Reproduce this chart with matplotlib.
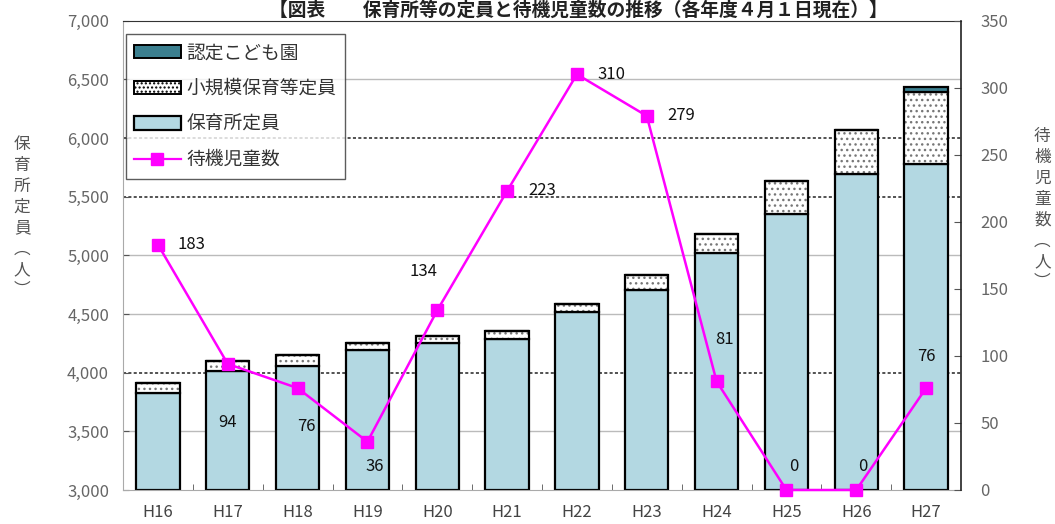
import matplotlib
matplotlib.use("Agg")
import matplotlib.pyplot as plt
from matplotlib.patches import Patch
from matplotlib.lines import Line2D
from matplotlib.ticker import FuncFormatter, MultipleLocator

plt.rcParams['font.family'] = ['Noto Sans CJK JP', 'DejaVu Sans']
plt.rcParams['hatch.linewidth'] = 1.0

# Data
years = ["H16", "H17", "H18", "H19", "H20", "H21", "H22", "H23", "H24", "H25", "H26", "H27"]
hoikusho = [3823, 4015, 4060, 4191, 4249, 4285, 4518, 4702, 5020, 5352, 5695, 5780]
shokibo = [85, 85, 89, 60, 62, 68, 71, 128, 165, 280, 375, 609]
kodomoen = [0, 0, 0, 0, 0, 0, 0, 0, 0, 0, 0, 49]
taiki = [183, 94, 76, 36, 134, 223, 310, 279, 81, 0, 0, 76]

BLUE = "#b3d8e2"
TEAL = "#3b7f8f"
MAGENTA = "#ff00ff"
TICK_GRAY = "#666666"

fig = plt.figure(figsize=(10.55, 5.24), dpi=100)
ax = fig.add_axes([0.1166, 0.0649, 0.7943, 0.8956])

x = list(range(len(years)))
w = 0.62
base = 3000

# stacked bars
ax.bar(x, [v - base for v in hoikusho], w, bottom=base, color=BLUE,
       edgecolor="black", linewidth=1.6, zorder=2)
bottom2 = hoikusho
ax.bar(x, shokibo, w, bottom=bottom2, color="white", edgecolor="#777777",
       hatch="...", linewidth=0, zorder=2)
ax.bar(x, shokibo, w, bottom=bottom2, fill=False, edgecolor="black",
       linewidth=1.6, zorder=3)
bottom3 = [a + b for a, b in zip(hoikusho, shokibo)]
ax.bar(x, kodomoen, w, bottom=bottom3, color=TEAL, edgecolor="black",
       linewidth=1.6, zorder=3)

ax.set_xlim(-0.5, len(years) - 0.5)
ax.set_ylim(3000, 7000)
ax.yaxis.set_major_locator(MultipleLocator(500))
ax.yaxis.set_major_formatter(FuncFormatter(lambda v, p: f"{int(v):,}"))
ax.set_xticks(x)
ax.set_xticklabels(years)
ax.set_xticks([i + 0.5 for i in x[:-1]], minor=True)
ax.tick_params(axis="x", which="major", length=0, pad=10, labelsize=12,
               labelcolor="#444444")
ax.tick_params(axis="x", which="minor", direction="in", length=4,
               color="#555555")
ax.tick_params(axis="y", direction="in", length=4, color="#555555",
               labelsize=12, labelcolor=TICK_GRAY, pad=10)

# horizontal grid lines
dark_levels = [4000, 5500, 6000]
for lvl in range(3500, 7000, 500):
    if lvl in dark_levels:
        ax.axhline(lvl, color="#222222", lw=1.1, ls=(0, (2, 1.5)), zorder=0)
    else:
        ax.axhline(lvl, color="#bbbbbb", lw=1.0, ls="-", zorder=0)

ax.spines["top"].set_color("#333333")
ax.spines["top"].set_linestyle((0, (2, 1)))
ax.spines["left"].set_color("#aaaaaa")
ax.spines["bottom"].set_color("#aaaaaa")
ax.spines["right"].set_visible(False)

# waiting children line on the secondary axis
ax2 = ax.twinx()
ax2.plot(x, taiki, color=MAGENTA, lw=1.8, marker="s", markersize=9,
         markerfacecolor=MAGENTA, markeredgecolor=MAGENTA, zorder=5,
         clip_on=False)
ax2.set_ylim(0, 350)
ax2.yaxis.set_major_locator(MultipleLocator(50))
ax2.tick_params(axis="y", direction="in", length=5, color="#555555",
                labelsize=12, labelcolor=TICK_GRAY, pad=14)
ax2.spines["right"].set_color("#222222")
ax2.spines["right"].set_linewidth(1.2)
for s in ("top", "left", "bottom"):
    ax2.spines[s].set_visible(False)

# value labels
offsets = [(14, 0, "left", "center"), (0, -42, "center", "center"),
           (6, -28, "center", "center"), (5, -18, "center", "center"),
           (-10, 28, "center", "center"), (15, 0, "left", "center"),
           (15, 0, "left", "center"), (15, 0, "left", "center"),
           (6, 30, "center", "center"), (5, 17, "center", "center"),
           (5, 17, "center", "center"), (0, 23, "center", "center")]
for xi, v, (dx, dy, ha, va) in zip(x, taiki, offsets):
    ax2.annotate(str(v), (xi, v), xytext=(dx, dy), textcoords="offset points",
                 ha=ha, va=va, fontsize=12, color="#111111", zorder=6)

# legend
handles = [
    Patch(facecolor=TEAL, edgecolor="black", linewidth=1.4),
    Patch(facecolor="white", edgecolor="black", hatch="....", linewidth=1.4),
    Patch(facecolor=BLUE, edgecolor="black", linewidth=1.6),
    Line2D([0], [0], color=MAGENTA, lw=1.6, marker="s", markersize=8),
]
labels = ["認定こども園", "小規模保育等定員", "保育所定員", "待機児童数"]
leg = ax2.legend(handles, labels, loc="upper left", bbox_to_anchor=(0.003, 0.972),
                 fontsize=13.5, frameon=True, fancybox=False, edgecolor="#333333",
                 handlelength=2.5, handleheight=0.7, handletextpad=0.3,
                 labelspacing=0.78, borderpad=0.45, borderaxespad=0)
leg.get_frame().set_linewidth(1.0)
for t in leg.get_texts():
    t.set_color("#333333")

# axis titles, stacked vertically
fig.text(0.021, 0.585, "\n".join("保育所定員︵人︶"), ha="center", va="center",
         fontsize=12, color="#555555", linespacing=1.3)
fig.text(0.988, 0.6, "\n".join("待機児童数︵人︶"), ha="center", va="center",
         fontsize=12, color="#555555", linespacing=1.3)

fig.text(0.548, 0.999, "【図表　　保育所等の定員と待機児童数の推移（各年度４月１日現在）】",
         ha="center", va="top", fontsize=13.5, fontweight="bold", color="#222222")

fig.savefig("out.png", dpi=100)
